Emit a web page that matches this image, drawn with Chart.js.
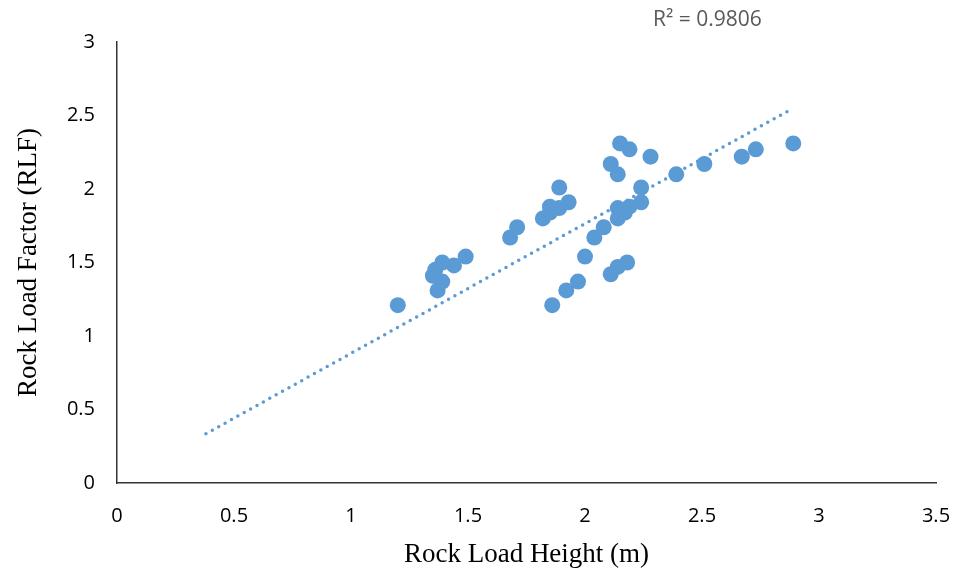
<!DOCTYPE html>
<html>
<head>
<meta charset="utf-8">
<script src="https://cdn.jsdelivr.net/npm/chart.js@4/dist/chart.umd.min.js"></script>
<style>
  html, body { margin: 0; padding: 0; background: #fff; }
  #wrap { width: 953px; height: 573px; }
</style>
</head>
<body>
<div id="wrap"><canvas id="rlfChart" width="953" height="573"></canvas></div>
<script>
// rock load height (m) vs rock load factor
var heightX = [1.20, 1.35, 1.36, 1.39, 1.37, 1.39, 1.44, 1.49, 1.68, 1.71, 1.82, 1.85,
               1.85, 1.89, 1.89, 1.93, 1.86, 1.92, 1.97, 2.00, 2.04, 2.08, 2.11, 2.15,
               2.19, 2.28, 2.14, 2.24, 2.24, 2.19, 2.14, 2.17, 2.14, 2.18, 2.14, 2.11,
               2.39, 2.51, 2.67, 2.73, 2.89];
var factorY = [1.21, 1.41, 1.45, 1.50, 1.31, 1.37, 1.48, 1.54, 1.67, 1.74, 1.80, 1.84,
               1.88, 1.87, 2.01, 1.91, 1.21, 1.31, 1.37, 1.54, 1.67, 1.74, 2.17, 2.31,
               2.27, 2.22, 2.10, 2.01, 1.91, 1.88, 1.87, 1.84, 1.80, 1.50, 1.47, 1.42,
               2.10, 2.17, 2.22, 2.27, 2.31];

// linear trendline end points
var trendX = [0.38, 2.89];
var trendY = [0.335, 2.55];
var rSquared = "R\u00B2 = 0.9806";

var xTicks = [0, 0.5, 1, 1.5, 2, 2.5, 3, 3.5];
var yTicks = [0, 0.5, 1, 1.5, 2, 2.5, 3];

var blue = "#5B9BD5";

var points = heightX.map(function (x, i) { return { x: x, y: factorY[i] }; });
var trend = trendX.map(function (x, i) { return { x: x, y: trendY[i] }; });

// R² label in the top right
var r2Label = {
  id: "r2Label",
  afterDraw: function (chart) {
    var ctx = chart.ctx;
    ctx.save();
    ctx.font = "21px 'Open Sans'";
    ctx.fillStyle = "#595959";
    ctx.textAlign = "left";
    ctx.textBaseline = "alphabetic";
    ctx.fillText(rSquared, 653, 26);
    ctx.restore();
  }
};

var tickFont = { family: "'Open Sans'", size: 20 };
var titleFont = { family: "'Liberation Serif', 'Times New Roman', serif", size: 27 };
// 0, 0.5, 1 ... instead of 1.0
var plainLabel = function (v) { return String(v); };

myChart = new Chart(document.getElementById("rlfChart"), {
  type: "scatter",
  data: {
    datasets: [
      {
        label: "trend",
        type: "line",
        data: trend,
        borderColor: blue,
        borderWidth: 3.5,
        borderDash: [0, 7.3],
        borderCapStyle: "round",
        pointRadius: 0,
        fill: false,
        order: 0
      },
      {
        label: "RLF",
        data: points,
        backgroundColor: blue,
        borderWidth: 0,
        pointRadius: 8,
        pointHoverRadius: 8,
        order: 1
      }
    ]
  },
  options: {
    responsive: false,
    animation: false,
    layout: { padding: { top: 42, right: 0, left: 0, bottom: 0 } },
    plugins: { legend: { display: false }, tooltip: { enabled: false } },
    scales: {
      x: {
        type: "linear",
        min: 0,
        max: 3.5,
        afterBuildTicks: function (s) { s.ticks = xTicks.map(function (v) { return { value: v }; }); },
        afterFit: function (s) { s.height = 90; s.paddingRight = 17; },
        grid: { display: false, drawTicks: false },
        border: { display: true, color: "#333", width: 1.5 },
        ticks: { font: tickFont, color: "#000", padding: 21, maxRotation: 0, callback: plainLabel },
        title: { display: true, text: "Rock Load Height (m)", font: titleFont, color: "#000", padding: { top: 0, bottom: 2 } }
      },
      y: {
        type: "linear",
        min: 0,
        max: 3,
        afterBuildTicks: function (s) { s.ticks = yTicks.map(function (v) { return { value: v }; }); },
        afterFit: function (s) { s.width = 117; },
        grid: { display: false, drawTicks: false },
        border: { display: true, color: "#333", width: 1.5 },
        ticks: { font: tickFont, color: "#000", padding: 22, callback: plainLabel },
        title: { display: true, text: "Rock Load Factor (RLF)", font: titleFont, color: "#000", padding: { top: 13, bottom: 0 } }
      }
    }
  },
  plugins: [r2Label]
});
</script>
</body>
</html>
